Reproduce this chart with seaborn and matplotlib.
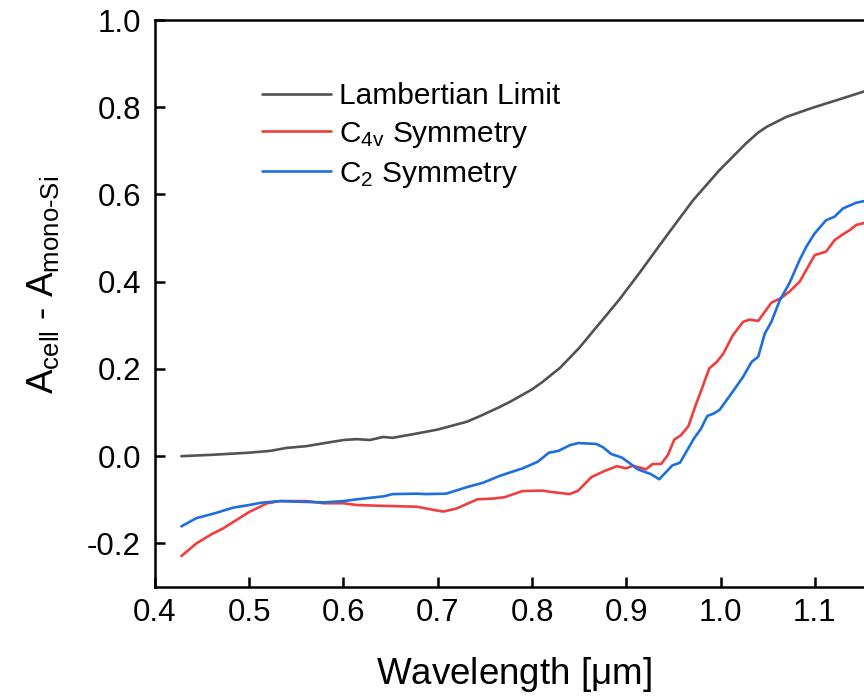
import matplotlib
matplotlib.use("Agg")
import matplotlib.pyplot as plt
import seaborn as sns
import pandas as pd

# ---- data ----
lam_x = [0.428, 0.46, 0.5, 0.522, 0.54, 0.561, 0.58, 0.6, 0.614, 0.628, 0.642, 0.652, 0.678, 0.7,
         0.731, 0.745, 0.766, 0.777, 0.8, 0.811, 0.83, 0.85, 0.87, 0.893, 0.914, 0.942, 0.971, 0.999,
         1.027, 1.04, 1.049, 1.07, 1.098, 1.126, 1.155]
lam_y = [0.0, 0.003, 0.008, 0.012, 0.019, 0.023, 0.03, 0.037, 0.039, 0.037, 0.044, 0.042, 0.052, 0.061,
         0.079, 0.092, 0.113, 0.125, 0.153, 0.17, 0.203, 0.248, 0.3, 0.36, 0.42, 0.503, 0.587, 0.656,
         0.717, 0.742, 0.755, 0.778, 0.799, 0.818, 0.838]

c4v_x = [0.428, 0.444, 0.46, 0.472, 0.5, 0.519, 0.533, 0.561, 0.579, 0.6, 0.614, 0.643, 0.678, 0.7,
         0.706, 0.72, 0.742, 0.76, 0.771, 0.79, 0.811, 0.82, 0.84, 0.849, 0.863, 0.877, 0.89, 0.9,
         0.907, 0.921, 0.928, 0.937, 0.944, 0.951, 0.958, 0.966, 0.974, 0.981, 0.988, 0.996, 1.003,
         1.013, 1.024, 1.031, 1.04, 1.047, 1.054, 1.064, 1.073, 1.084, 1.091, 1.1, 1.112, 1.121,
         1.13, 1.137, 1.144, 1.155]
c4v_y = [-0.229, -0.2, -0.179, -0.166, -0.128, -0.108, -0.103, -0.103, -0.108, -0.108, -0.112, -0.114,
         -0.116, -0.125, -0.127, -0.12, -0.099, -0.097, -0.094, -0.08, -0.079, -0.082, -0.087, -0.079,
         -0.048, -0.034, -0.023, -0.028, -0.022, -0.03, -0.018, -0.018, 0.002, 0.038, 0.048, 0.069,
         0.119, 0.159, 0.201, 0.216, 0.235, 0.277, 0.308, 0.313, 0.31, 0.331, 0.352, 0.362, 0.377,
         0.4, 0.427, 0.461, 0.469, 0.495, 0.509, 0.518, 0.53, 0.536]

c2_x = [0.428, 0.444, 0.453, 0.465, 0.483, 0.5, 0.512, 0.533, 0.561, 0.579, 0.6, 0.614, 0.643, 0.652,
        0.678, 0.688, 0.709, 0.731, 0.748, 0.766, 0.79, 0.806, 0.818, 0.828, 0.84, 0.849, 0.868,
        0.875, 0.884, 0.895, 0.903, 0.912, 0.926, 0.935, 0.949, 0.957, 0.972, 0.979, 0.986, 0.993,
        0.999, 1.013, 1.024, 1.033, 1.04, 1.047, 1.054, 1.063, 1.073, 1.084, 1.091, 1.1, 1.112,
        1.121, 1.13, 1.144, 1.155]
c2_y = [-0.161, -0.142, -0.137, -0.13, -0.118, -0.112, -0.107, -0.103, -0.105, -0.106, -0.103, -0.099,
        -0.092, -0.087, -0.086, -0.087, -0.086, -0.071, -0.061, -0.045, -0.028, -0.013, 0.008, 0.012,
        0.025, 0.03, 0.028, 0.021, 0.005, -0.003, -0.015, -0.03, -0.041, -0.053, -0.021, -0.015,
        0.041, 0.062, 0.092, 0.098, 0.106, 0.148, 0.182, 0.216, 0.228, 0.281, 0.308, 0.358, 0.396,
        0.45, 0.48, 0.511, 0.541, 0.549, 0.568, 0.581, 0.586]

labels = ["Lambertian Limit", r"C$_{\mathregular{4v}}$ Symmetry", r"C$_{\mathregular{2}}$ Symmetry"]
colors = ["#525252", "#EF3E3E", "#1D6FE0"]
x_ticks = [0.4, 0.5, 0.6, 0.7, 0.8, 0.9, 1.0, 1.1]
y_ticks = [-0.2, 0.0, 0.2, 0.4, 0.6, 0.8, 1.0]

sns.set_theme(style="ticks")
plt.rcParams["font.family"] = ["Liberation Sans", "DejaVu Sans"]
plt.rcParams["mathtext.fontset"] = "custom"
plt.rcParams["mathtext.rm"] = "Liberation Sans"
plt.rcParams["mathtext.it"] = "Liberation Sans"
plt.rcParams["mathtext.default"] = "regular"
plt.rcParams["text.color"] = "black"
plt.rcParams["axes.labelcolor"] = "black"

fig = plt.figure(figsize=(8.64, 6.98), dpi=100)
ax = fig.add_axes([155 / 864, 111 / 698, 754 / 864, 567 / 698])

for xs, ys, lab, col in zip([lam_x, c4v_x, c2_x], [lam_y, c4v_y, c2_y], labels, colors):
    df = pd.DataFrame({"x": xs, "y": ys})
    sns.lineplot(data=df, x="x", y="y", ax=ax, color=col, linewidth=1.9, label=lab,
                 estimator=None)

ax.set_xlim(0.4, 1.2)
ax.set_ylim(-0.3, 1.0)
ax.set_xticks(x_ticks)
ax.set_xticklabels([f"{v:.1f}" for v in x_ticks])
ax.set_yticks(y_ticks)
ax.set_yticklabels([f"{v:.1f}" for v in y_ticks])

for s in ax.spines.values():
    s.set_linewidth(1.8)
    s.set_color("black")
ax.tick_params(direction="in", length=7, width=1.8, labelsize=22.5, colors="black",
               labelcolor="black")
ax.tick_params(axis="x", pad=8)
ax.tick_params(axis="y", pad=10)

ax.set_xlabel(r"Wavelength [$\mu$m]", fontsize=26.5)
ylab = "A$_{\\mathregular{cell}}$ - A$_{\\mathregular{mono" + "\u2010" + "Si}}$"
ax.set_ylabel(ylab, fontsize=26.5)
ax.xaxis.set_label_coords(0.476, -0.12)
ax.yaxis.set_label_coords(-0.125, 0.532)

ax.legend(loc="upper left", bbox_to_anchor=(262 / 864, 1 - 82 / 698),
          bbox_transform=fig.transFigure, frameon=False, fontsize=21.5,
          handlelength=2.3, handletextpad=0.27, labelspacing=0.33, borderpad=0, borderaxespad=0)

fig.savefig("out.png", dpi=100)
